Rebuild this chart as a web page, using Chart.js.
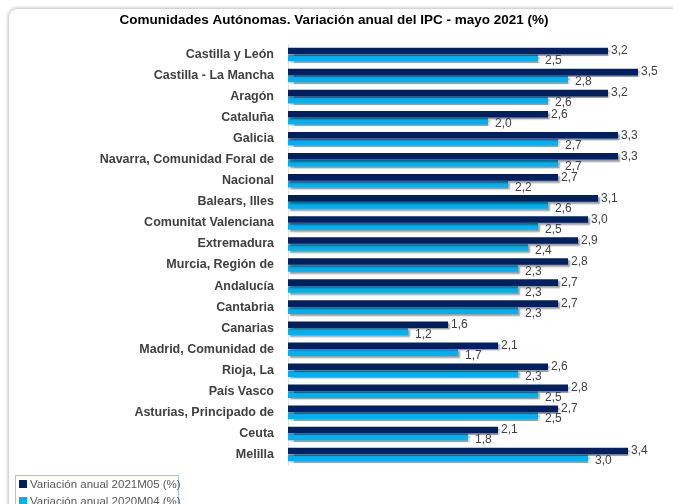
<!DOCTYPE html>
<html>
<head>
<meta charset="utf-8">
<script src="https://cdn.jsdelivr.net/npm/chart.js@4"></script>
<style>
  body { margin: 0; background: #fff; }
  #wrap { position: relative; width: 673px; height: 504px; overflow: hidden; }
  #frame { position: absolute; left: 8px; top: 8px; width: 720px; height: 540px;
           border: 1px solid #d4d4d4; border-radius: 10px; box-shadow: -1px -1px 3px rgba(0,0,0,0.15); }
  canvas { position: absolute; left: 0; top: 0; }
  #legend { position: absolute; left: 15px; top: 475px; width: 162px; height: 40px;
            border: 1px solid #a9c4e4; font: 11.5px "Liberation Sans", Arial, sans-serif; color: #595959; }
  #legend div { height: 17px; line-height: 17px; padding-left: 3px; white-space: nowrap; }
  #legend span { display: inline-block; width: 8px; height: 8px; margin-right: 3px; vertical-align: 0px; }
</style>
</head>
<body>
<div id="wrap">
  <div id="frame"></div>
  <canvas id="chart" width="673" height="504"></canvas>
  <div id="legend"></div>
</div>
<script>
const regiones = [
  'Castilla y León', 'Castilla - La Mancha', 'Aragón', 'Cataluña', 'Galicia',
  'Navarra, Comunidad Foral de', 'Nacional', 'Balears, Illes', 'Comunitat Valenciana',
  'Extremadura', 'Murcia, Región de', 'Andalucía', 'Cantabria', 'Canarias',
  'Madrid, Comunidad de', 'Rioja, La', 'País Vasco', 'Asturias, Principado de',
  'Ceuta', 'Melilla'
];
const variacion2021 = [3.2, 3.5, 3.2, 2.6, 3.3, 3.3, 2.7, 3.1, 3.0, 2.9, 2.8, 2.7, 2.7, 1.6, 2.1, 2.6, 2.8, 2.7, 2.1, 3.4];
const variacion2020 = [2.5, 2.8, 2.6, 2.0, 2.7, 2.7, 2.2, 2.6, 2.5, 2.4, 2.3, 2.3, 2.3, 1.2, 1.7, 2.3, 2.5, 2.5, 1.8, 3.0];
const etiquetas = ['Variación anual 2021M05 (%)', 'Variación anual 2020M04 (%)'];
const colores = ['#002060', '#00b0f0'];

// sombra gris bajo las barras, como en Excel
const sombra = {
  id: 'sombra',
  beforeDatasetsDraw(chart) {
    const c = chart.ctx;
    c.save();
    c.shadowColor = 'rgba(0,0,0,0.38)';
    c.shadowOffsetX = 2;
    c.shadowOffsetY = 2;
    c.shadowBlur = 1.5;
  },
  afterDatasetsDraw(chart) {
    chart.ctx.restore();
  }
};

// etiquetas de valor con coma decimal
const valores = {
  id: 'valores',
  afterDatasetsDraw(chart) {
    const c = chart.ctx;
    c.save();
    c.font = '12px "Liberation Sans", Arial, sans-serif';
    c.fillStyle = '#404040';
    c.textBaseline = 'middle';
    chart.data.datasets.forEach((ds, i) => {
      chart.getDatasetMeta(i).data.forEach((bar, j) => {
        const txt = ds.data[j].toFixed(1).replace('.', ',');
        const dx = i === 0 ? 3 : 7;
        const dy = i === 0 ? 0 : 3;
        c.fillText(txt, bar.x + dx, bar.y + dy);
      });
    });
    c.restore();
  }
};

const ctx = document.getElementById('chart').getContext('2d');
const chart = new Chart(ctx, {
  type: 'bar',
  data: {
    labels: regiones,
    datasets: [
      { label: etiquetas[0], data: variacion2021, backgroundColor: colores[0] },
      { label: etiquetas[1], data: variacion2020, backgroundColor: colores[1] }
    ]
  },
  options: {
    indexAxis: 'y',
    responsive: false,
    animation: false,
    datasets: { bar: { categoryPercentage: 0.66, barPercentage: 0.95 } },
    layout: { padding: { top: 0, right: 5, bottom: 39, left: 0 } },
    scales: {
      x: { display: false, min: 0, max: 3.8 },
      y: {
        grid: { display: false, drawTicks: false },
        border: { color: '#e2e2e2' },
        ticks: {
          padding: 14,
          color: '#404040',
          font: { family: '"Liberation Sans", Arial, sans-serif', size: 12.5, weight: 'bold' }
        },
        afterFit(scale) { scale.width = 288; }
      }
    },
    plugins: {
      legend: { display: false },
      tooltip: { enabled: false },
      title: {
        display: true,
        text: 'Comunidades Autónomas. Variación anual del IPC - mayo 2021 (%)',
        color: '#000',
        font: { family: '"Liberation Sans", Arial, sans-serif', size: 13.5, weight: 'bold' },
        padding: { top: 12, bottom: 15.8 }
      }
    }
  },
  plugins: [sombra, valores]
});

const leyenda = document.getElementById('legend');
etiquetas.forEach((t, i) => {
  const d = document.createElement('div');
  d.innerHTML = '<span style="background:' + colores[i] + '"></span>' + t;
  leyenda.appendChild(d);
});
</script>
</body>
</html>
